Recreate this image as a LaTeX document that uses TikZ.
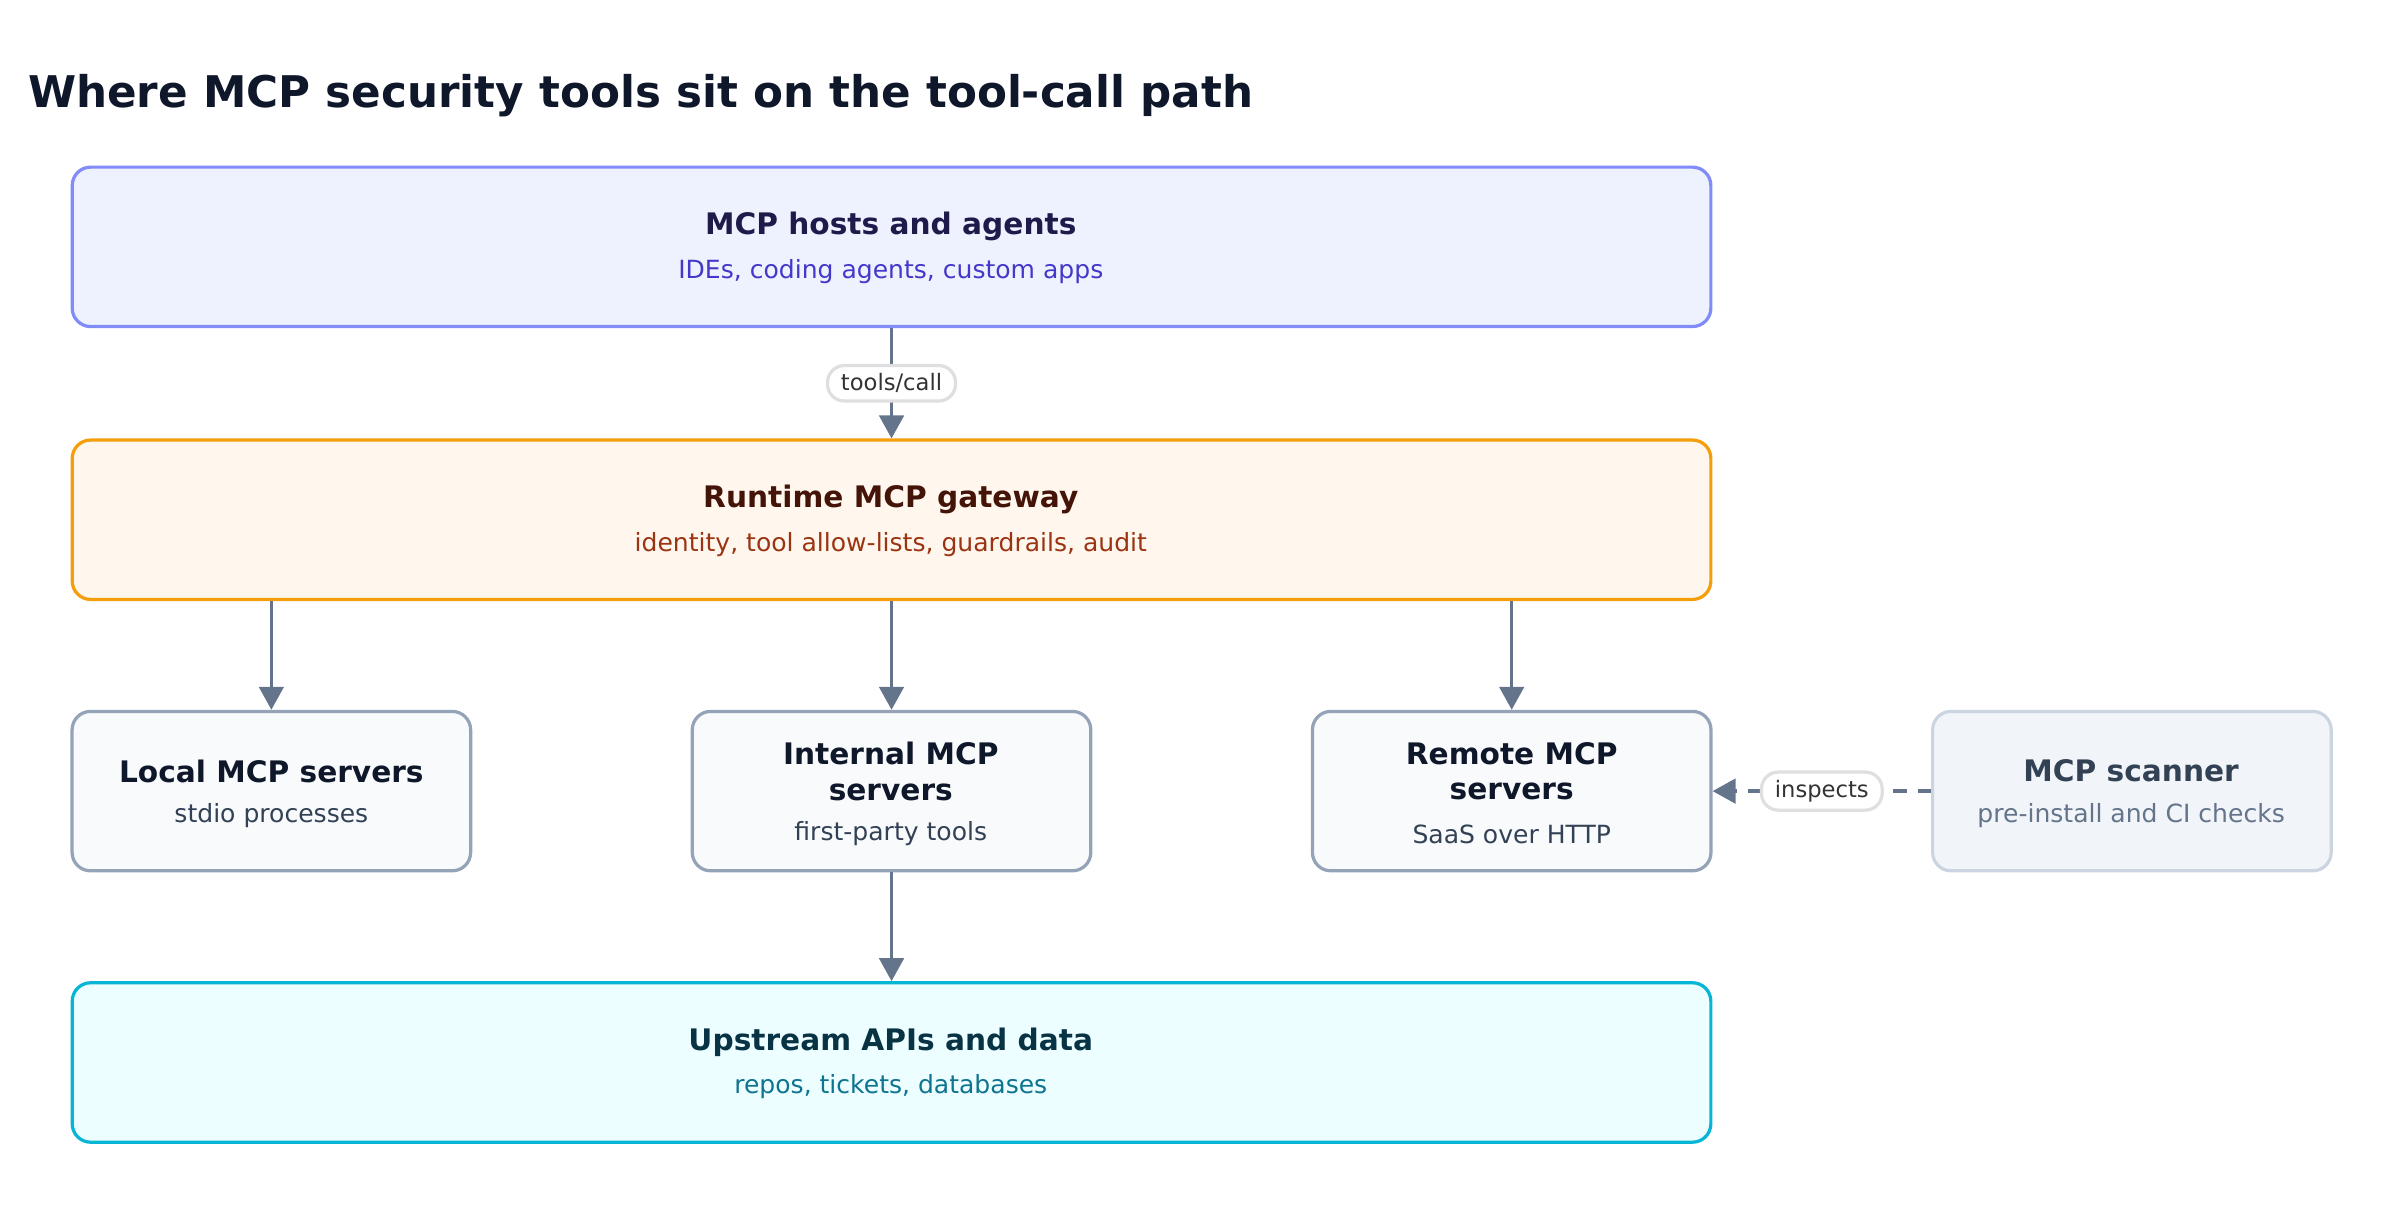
\documentclass[tikz,border=0pt]{standalone}
\usepackage{fontspec}
\setmainfont{DejaVu Sans}
\usetikzlibrary{arrows.meta}
\definecolor{arr}{HTML}{64748B}
\definecolor{cA}{HTML}{0F172A}
\definecolor{cHb}{HTML}{818CF8}\definecolor{cHf}{HTML}{EEF2FF}\definecolor{cHt}{HTML}{1E1B4B}\definecolor{cHs}{HTML}{4338CA}
\definecolor{cGb}{HTML}{F59E0B}\definecolor{cGf}{HTML}{FFF7ED}\definecolor{cGt}{HTML}{431407}\definecolor{cGs}{HTML}{9A3412}
\definecolor{cSb}{HTML}{94A3B8}\definecolor{cSf}{HTML}{F8FAFC}\definecolor{cSs}{HTML}{334155}
\definecolor{cKb}{HTML}{CBD5E1}\definecolor{cKf}{HTML}{F1F5F9}\definecolor{cKs}{HTML}{64748B}
\definecolor{cUb}{HTML}{06B6D4}\definecolor{cUf}{HTML}{ECFEFF}\definecolor{cUt}{HTML}{083344}\definecolor{cUs}{HTML}{0E7490}
\tikzset{
 box/.style={draw, line width=1.2pt, rounded corners=0.24cm, inner sep=0pt},
 big/.style={box, minimum width=21.38cm, minimum height=2.08cm},
 small/.style={box, minimum width=5.2cm, minimum height=2.08cm},
 ttl/.style={font=\bfseries\fontsize{11}{13.3}\selectfont, align=center},
 sub/.style={font=\fontsize{9.3}{11}\selectfont},
 conn/.style={draw=arr, line width=1.2pt, -{Triangle[length=0.3cm,width=0.32cm]}},
 lbl/.style={draw=gray!25, fill=white, rounded corners=0.22cm, font=\fontsize{8.4}{10}\selectfont, text=black!80, inner xsep=5pt, inner ysep=3pt}
}
\begin{document}
\begin{tikzpicture}[x=0.02cm,y=-0.02cm]
\useasboundingbox (0,0) rectangle (1568,793);
\node[anchor=base west, inner xsep=0pt, font=\bfseries\fontsize{16.2}{19}\selectfont, text=cA] (title) at (18,70) {Where MCP security tools sit on the tool-call path};

\node[big, draw=cHb, fill=cHf] (hosts) at (581.5,161) {};
\node[ttl, text=cHt] (hostsT) at (581,148) {MCP hosts and agents};
\node[sub, text=cHs] (hostsS) at (581,177) {IDEs, coding agents, custom apps};

\node[big, draw=cGb, fill=cGf] (gw) at (581.5,339) {};
\node[ttl, text=cGt] (gwT) at (581,326) {Runtime MCP gateway};
\node[sub, text=cGs] (gwS) at (581,355) {identity, tool allow-lists, guardrails, audit};

\node[small, draw=cSb, fill=cSf] (local) at (177,516) {};
\node[ttl, text=cA] (localT) at (177,503) {Local MCP servers};
\node[sub, text=cSs] (localS) at (177,532) {stdio processes};

\node[small, draw=cSb, fill=cSf] (internal) at (581.5,516) {};
\node[ttl, text=cA] (internalT) at (581,503) {Internal MCP\\servers};
\node[sub, text=cSs] (internalS) at (581,544) {first-party tools};

\node[small, draw=cSb, fill=cSf] (remote) at (986,516) {};
\node[ttl, text=cA] (remoteT) at (986,503) {Remote MCP\\servers};
\node[sub, text=cSs] (remoteS) at (986,544) {SaaS over HTTP};

\node[small, draw=cKb, fill=cKf] (scan) at (1390.5,516) {};
\node[ttl, text=cSs] (scanT) at (1390,503) {MCP scanner};
\node[sub, text=cKs] (scanS) at (1390,532) {pre-install and CI checks};

\node[big, draw=cUb, fill=cUf] (up) at (581.5,693) {};
\node[ttl, text=cUt] (upT) at (581,680) {Upstream APIs and data};
\node[sub, text=cUs] (upS) at (581,709) {repos, tickets, databases};

\draw[conn] (hosts.south) -- (gw.north) node[lbl, midway] {tools/call};
\draw[conn] (gw.south -| local) -- (local.north);
\draw[conn] (gw.south) -- (internal.north);
\draw[conn] (gw.south -| remote) -- (remote.north);
\draw[conn] (internal.south) -- (up.north);
\draw[conn, dash pattern=on 5pt off 4pt] (scan.west) -- (remote.east) node[lbl, midway, solid] {inspects};
\end{tikzpicture}
\end{document}
